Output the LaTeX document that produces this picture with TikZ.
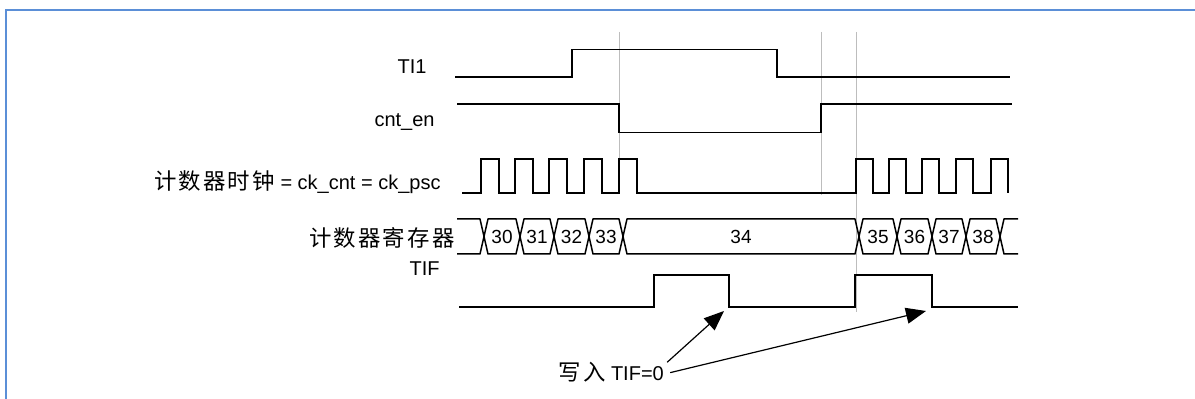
\documentclass[tikz,border=0pt]{standalone}
\usepackage{fontspec}
\setmainfont{Liberation Sans}
\newfontfamily\cjk[Scale=1.12,LetterSpace=10]{Noto Sans CJK SC}
\usetikzlibrary{arrows.meta}
\definecolor{frameblue}{HTML}{5B8FD7}
\definecolor{guidegray}{HTML}{BDBDBD}

\begin{document}
\begin{tikzpicture}[x=0.5pt, y=-0.5pt, font=\fontsize{10}{12}\selectfont, >={Triangle[length=10pt,width=8pt]}]
  \tikzstyle{sig}=[draw=black,line width=0.75pt]
  \tikzstyle{bus}=[draw=black,line width=0.75pt,line join=round]
  \tikzstyle{guide}=[draw=guidegray,line width=0.5pt]
  \tikzstyle{lbl}=[inner sep=0pt,anchor=base east]
  \tikzstyle{val}=[inner sep=0pt,font=\fontsize{9.5}{10}\selectfont]
  \tikzstyle{note}=[draw=black,line width=0.6pt]
  \useasboundingbox (0,0) rectangle (1195,399);
  \draw[frameblue,line width=1pt] (6,399) -- (6,10.5) -- (1195,10.5);
  % guide lines
  \draw[guide] (619,32) -- (619,193);
  \draw[guide] (821,32) -- (821,195);
  \draw[guide] (856,32) -- (856,312);
  % signal names
  \node[lbl] (ti1) at (427,74) {TI1};
  \node[lbl] (cnten) at (435,127) {cnt\_en};
  \node[lbl] (ckcnt) at (441,190) {{\cjk 计数器时钟} = ck\_cnt = ck\_psc};
  \node[lbl] (cntreg) at (455,247) {\cjk 计数器寄存器};
  \node[lbl] (tif) at (440,276) {TIF};
  % waveforms
  \draw[sig] (455,77) -- (572,77) -- (572,49.5) -- (777,49.5) -- (777,77) -- (1010,77);
  \draw[sig] (457,104) -- (619,104) -- (619,132.5) -- (821,132.5) -- (821,104) -- (1012,104);
  \draw[sig] (462,193) foreach \r in {481,515,549,584,619} { -- (\r,193) -- (\r,159) -- (\r+18,159) -- (\r+18,193) }
    -- (856,193) foreach \r in {856,889,922,956,991} { -- (\r,193) -- (\r,159) -- (\r+17,159) -- (\r+17,193) };
  \draw[bus] (457,219) -- (480,219) -- (484,236.5) -- (480,254) -- (457,254);
  \foreach \a/\b/\v in {484/520/30,520/554/31,554/589/32,589/623/33,623/859/34,859/897/35,897/932/36,932/966/37,966/1000/38} {
    \draw[bus] (\a,236.5) -- (\a+4,219) -- (\b-4,219) -- (\b,236.5) -- (\b-4,254) -- (\a+4,254) -- cycle;
    \node[val] (v\v) at ({(\a+\b)/2},237) {\v};
  }
  \draw[bus] (1018,219) -- (1004,219) -- (1000,236.5) -- (1004,254) -- (1018,254);
  \draw[sig] (459,307) -- (654,307) -- (654,275) -- (729,275) -- (729,307) -- (855,307) -- (855,275) -- (932,275) -- (932,307) -- (1018,307);
  % write TIF=0
  \node[inner sep=0pt,anchor=base west] (wr) at (558,381) {{\cjk 写入} TIF=0};
  \coordinate (tip1) at (724,311);
  \coordinate (tip2) at (926,311);
  \draw[note,->] ([xshift=1.5pt]wr.north east) -- (tip1);
  \draw[note,->] ([xshift=3pt]wr.east) -- (tip2);
\end{tikzpicture}
\end{document}
